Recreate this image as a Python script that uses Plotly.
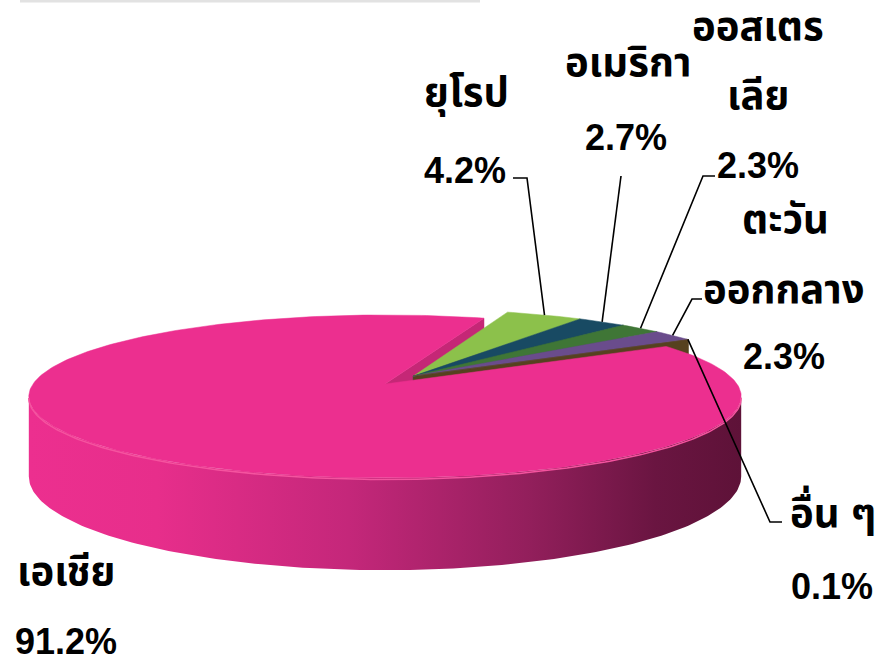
import numpy as np
import plotly.graph_objects as go

# ---------------- data ----------------
regions = ["เอเชีย", "ยุโรป", "อเมริกา", "ออสเตรเลีย", "ตะวันออกกลาง", "อื่น ๆ"]
name_lines = [["เอเชีย"], ["ยุโรป"], ["อเมริกา"], ["ออสเตร", "เลีย"], ["ตะวัน", "ออกกลาง"], ["อื่น ๆ"]]
shares = [91.2, 4.2, 2.7, 2.3, 2.3, 0.1]
share_labels = ["91.2%", "4.2%", "2.7%", "2.3%", "2.3%", "0.1%"]

# ---------------- styles ----------------
top_colors = ["#EC2F8F", "#8CC14B", "#184A63", "#3F7636", "#6A4C8C", "#5C4626"]
wall_colors = ["#C52776", "#6F9A3A", "#123A4F", "#31602B", "#54396F", "#56411F"]
side_scale = [[0.0, "#EC2F8F"], [0.18, "#E72E8B"], [0.45, "#C4277A"],
              [0.7, "#931F5C"], [0.88, "#6A1541"], [1.0, "#5E1238"]]
exploded = [False, True, True, True, True, True]

# projection of the tilted 3D pie (pixel-space axes)
CX, CY = 385.0, 384.0
AX, BY = 352.0, 79.6
K = 0.153
D0 = 78.1
ROT = 59.4          # angle of first slice, clockwise from the back
EXPLODE = 0.13


def proj(X, Z, bottom=False):
    w = 1 + K * Z
    x = CX + AX * X / w
    y = CY - BY * Z / w
    if bottom:
        y = y + D0 / w
    return x, y


def rim(theta_deg, off, bottom=False):
    t = np.radians(theta_deg)
    return proj(np.sin(t) + off[0], np.cos(t) + off[1], bottom)


total = float(sum(shares))
starts, ends = [], []
acc = ROT
for v in shares:
    starts.append(acc)
    acc += v / total * 360.0
    ends.append(acc)

grp = [i for i in range(len(shares)) if exploded[i]]
gmid = np.radians((starts[grp[0]] + ends[grp[-1]]) / 2.0)
offsets = []
for i in range(len(shares)):
    if exploded[i]:
        offsets.append((EXPLODE * np.sin(gmid), EXPLODE * np.cos(gmid)))
    else:
        offsets.append((0.0, 0.0))

fig = go.Figure()


def poly(xs, ys, color=None, gradient=None):
    kw = dict(x=list(xs) + [xs[0]], y=list(ys) + [ys[0]], mode="lines",
              fill="toself", line=dict(width=0.5, color=color or "rgba(0,0,0,0)"),
              hoverinfo="skip", showlegend=False)
    if gradient is not None:
        kw["fillgradient"] = gradient
        kw["line"] = dict(width=0)
    else:
        kw["fillcolor"] = color
    fig.add_trace(go.Scatter(**kw))


# 1) outer front side wall (visible part only)
sil_a = 90 + np.degrees(np.arcsin(K))
sil_b = 270 - np.degrees(np.arcsin(K))
for i in range(len(shares)):
    a0, a1 = starts[i], ends[i]
    lo, hi = max(a0, sil_a), min(a1, sil_b)
    if hi <= lo:
        continue
    th = np.linspace(lo, hi, int(hi - lo) + 2)
    tx, ty = rim(th, offsets[i])
    bx, by = rim(th[::-1], offsets[i], bottom=True)
    if i == 0:
        poly(np.r_[tx, bx], np.r_[ty, by],
             gradient=dict(type="horizontal", colorscale=side_scale))
    else:
        poly(np.r_[tx, bx], np.r_[ty, by], color=wall_colors[i])

# 2) visible radial end walls
for i in range(len(shares)):
    a1 = ends[i]
    if np.sin(np.radians(a1)) > 0:
        off = offsets[i]
        ax_, ay_ = proj(off[0], off[1])
        axb, ayb = proj(off[0], off[1], bottom=True)
        rx_, ry_ = rim(a1, off)
        rxb, ryb = rim(a1, off, bottom=True)
        poly([ax_, rx_, rxb, axb], [ay_, ry_, ryb, ayb], color=wall_colors[i])

# 3) top faces: small slices first, then the big one
order = [i for i in range(len(shares)) if exploded[i]] + [i for i in range(len(shares)) if not exploded[i]]
for i in order:
    a0, a1 = starts[i], ends[i]
    th = np.linspace(a0, a1, max(int(a1 - a0) + 2, 3))
    tx, ty = rim(th, offsets[i])
    ax_, ay_ = proj(*offsets[i])
    poly(np.r_[ax_, tx], np.r_[ay_, ty], color=top_colors[i])

# highlight along the front rim
th = np.linspace(sil_a, sil_b, 200)
hx, hy = rim(th, (0, 0))
fig.add_trace(go.Scatter(x=hx, y=hy + 1.5, mode="lines", line=dict(color="#F5539F", width=1.5),
                         hoverinfo="skip", showlegend=False))

# ---------------- labels & leader lines ----------------
name_pos = [[(66, 571)], [(466, 93)], [(628, 62)], [(758, 26), (758, 95)],
            [(785, 219), (784, 289)], [(833, 510)]]
pct_pos = [(66, 641), (465, 170), (626, 137), (758, 165), (784, 356), (832, 586)]
leader_pts = [None, [(513, 178), (527, 178)], [(621, 176)], [(715, 176), (703, 176)],
              [(702, 299), (692, 299)], [(782, 522), (770, 522)]]

FAMILY = "Liberation Sans, Noto Sans Thai, Noto Sans, DejaVu Sans, sans-serif"
NAME_FONT = dict(family=FAMILY, size=40, color="black", weight="bold")
PCT_FONT = dict(family=FAMILY, size=36, color="black", weight="bold")
anns = []
for i in range(len(shares)):
    for line, (x, y) in zip(name_lines[i], name_pos[i]):
        anns.append(dict(x=x, y=y, xref="x", yref="y", text=line, showarrow=False,
                         xanchor="center", yanchor="middle", font=NAME_FONT))
    x, y = pct_pos[i]
    anns.append(dict(x=x, y=y, xref="x", yref="y", text=share_labels[i], showarrow=False,
                     xanchor="center", yanchor="middle", font=PCT_FONT))
    if leader_pts[i] is not None:
        mid = (starts[i] + ends[i]) / 2.0
        ex, ey = rim(mid, offsets[i])
        pts = leader_pts[i] + [(float(ex), float(ey))]
        fig.add_trace(go.Scatter(x=[p[0] for p in pts], y=[p[1] for p in pts], mode="lines",
                                 line=dict(color="black", width=1.6),
                                 hoverinfo="skip", showlegend=False))

fig.update_layout(
    width=881, height=661, margin=dict(l=0, r=0, t=0, b=0),
    paper_bgcolor="white", plot_bgcolor="white",
    xaxis=dict(range=[0, 881], visible=False, fixedrange=True),
    yaxis=dict(range=[661, 0], visible=False, fixedrange=True),
    annotations=anns,
    shapes=[dict(type="line", xref="x", yref="y", x0=20, x1=480, y0=1, y1=1,
                 line=dict(color="#E2E2E2", width=3))],
)

fig.write_html("out.html", config={"displayModeBar": False},
               post_script="document.body.style.margin='0';document.body.style.overflow='hidden';")
